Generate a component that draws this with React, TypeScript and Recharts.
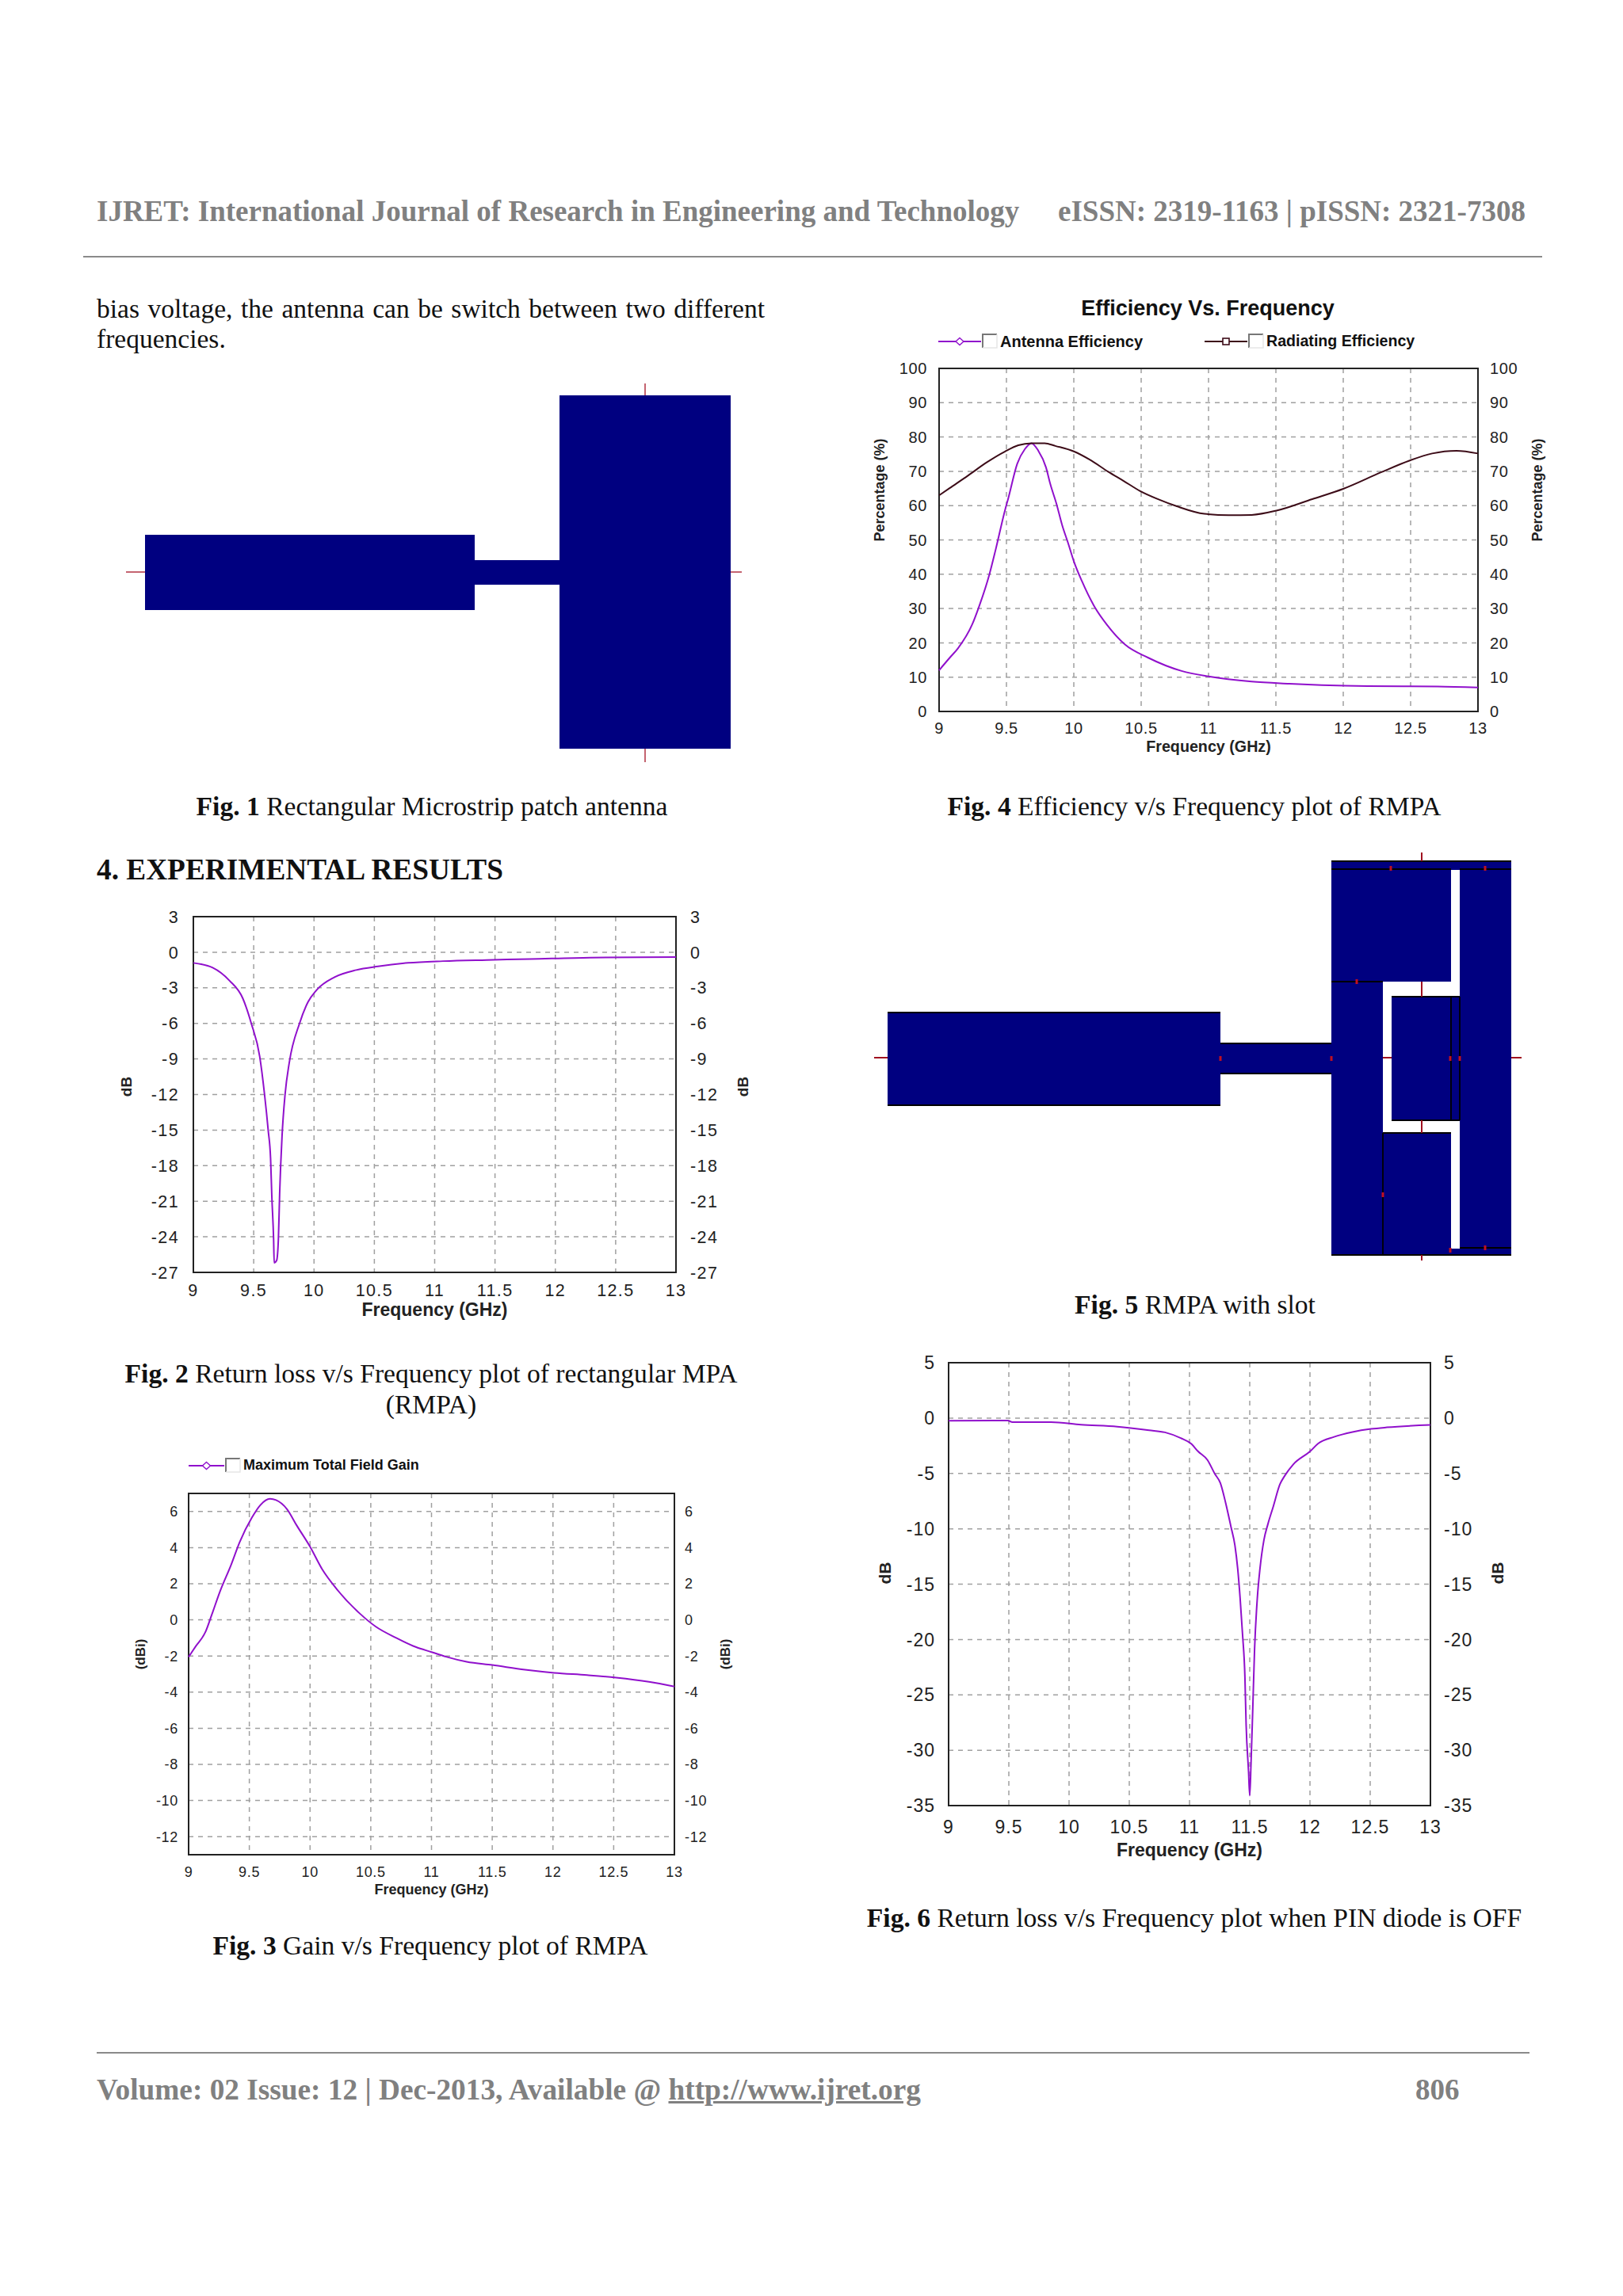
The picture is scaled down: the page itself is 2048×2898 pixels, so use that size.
import { LineChart, Line, XAxis, YAxis, CartesianGrid, ReferenceArea } from "recharts";

const freqTicks = [9, 9.5, 10, 10.5, 11, 11.5, 12, 12.5, 13];

// Fig. 2 return loss
const fig2Freq = [9, 9.16, 9.3, 9.41, 9.48, 9.55, 9.59, 9.62, 9.64, 9.65, 9.665, 9.67, 9.69, 9.705, 9.715, 9.735, 9.76, 9.795, 9.88, 9.95, 10.02, 10.17, 10.35, 10.53, 10.78, 11.07, 11.43, 11.79, 12.29, 13];
const fig2Db = [-0.9, -1.3, -2.4, -3.9, -6, -8.8, -12, -15, -17.4, -20.5, -24.2, -26.2, -26, -24.1, -20.4, -15.5, -12, -9.3, -6, -4.2, -3.2, -2.1, -1.5, -1.2, -0.9, -0.75, -0.65, -0.57, -0.45, -0.4];
const fig2Ticks = [-27, -24, -21, -18, -15, -12, -9, -6, -3, 0, 3];

// Fig. 3 gain
const fig3Freq = [9, 9.06, 9.14, 9.19, 9.26, 9.35, 9.42, 9.52, 9.59, 9.67, 9.72, 9.81, 9.89, 10, 10.1, 10.22, 10.41, 10.54, 10.71, 10.87, 11, 11.12, 11.29, 11.5, 11.77, 12.01, 12.28, 12.52, 12.79, 13];
const fig3Gain = [-2.05, -1.45, -0.65, 0.27, 1.6, 3.05, 4.3, 5.65, 6.35, 6.7, 6.63, 6.13, 5.23, 4.05, 2.8, 1.7, 0.35, -0.37, -1, -1.5, -1.78, -2.04, -2.32, -2.5, -2.76, -2.93, -3.06, -3.2, -3.43, -3.69];
const fig3Ticks = [-12, -10, -8, -6, -4, -2, 0, 2, 4, 6];

// Fig. 4 efficiency
const antennaFreq = [9, 9.08, 9.14, 9.245, 9.294, 9.373, 9.42, 9.49, 9.514, 9.58, 9.637, 9.686, 9.735, 9.794, 9.824, 9.873, 9.912, 9.96, 10, 10.06, 10.157, 10.245, 10.38, 10.55, 10.8, 11, 11.32, 11.6, 11.84, 12.18, 12.7, 13];
const antennaEff = [12, 15.7, 18.4, 25.3, 30.3, 39.9, 47.2, 58.8, 62.2, 72.2, 76.5, 78.2, 76.1, 71.1, 66.5, 60.3, 54.5, 48.8, 43.8, 38, 30.3, 25.3, 19.5, 15.7, 11.8, 10.2, 8.7, 8.1, 7.7, 7.4, 7.3, 7];
const radiatingFreq = [9, 9.078, 9.216, 9.353, 9.49, 9.588, 9.686, 9.784, 9.863, 10, 10.118, 10.255, 10.37, 10.49, 10.63, 10.765, 10.97, 11.15, 11.32, 11.51, 11.77, 12, 12.28, 12.49, 12.66, 12.84, 13];
const radiatingEff = [63, 65.1, 68.8, 72.6, 75.8, 77.6, 78.2, 78.2, 77.4, 75.8, 73.4, 69.9, 67.2, 64.3, 61.8, 59.8, 57.6, 57.2, 57.3, 58.6, 61.9, 64.9, 69.7, 73.1, 75.2, 76, 75.2];
const fig4Ticks = [0, 10, 20, 30, 40, 50, 60, 70, 80, 90, 100];

// Fig. 6 return loss, diode off
const fig6Freq = [9, 9.49, 9.53, 9.85, 10.1, 10.4, 10.664, 10.796, 10.927, 11.016, 11.07, 11.15, 11.21, 11.256, 11.3, 11.344, 11.377, 11.4, 11.42, 11.44, 11.46, 11.47, 11.49, 11.5, 11.51, 11.525, 11.54, 11.563, 11.585, 11.618, 11.651, 11.695, 11.75, 11.794, 11.86, 12.002, 12.068, 12.2, 12.353, 12.507, 12.64, 13];
const fig6Db = [-0.25, -0.22, -0.37, -0.37, -0.6, -0.78, -1.1, -1.29, -1.81, -2.34, -3, -3.8, -5.04, -5.87, -7.66, -9.81, -11.5, -13.6, -16.25, -19.5, -23.4, -27.7, -31.9, -34.1, -31.4, -26.3, -20.9, -16.25, -13.6, -11, -9.57, -8, -6, -5.15, -4.2, -3, -2.3, -1.7, -1.26, -0.98, -0.84, -0.62];
const fig6Ticks = [-35, -30, -25, -20, -15, -10, -5, 0, 5];

const PURPLE = "#9010cc";
const MAROON = "#3d0c18";
const NAVY = "#000080";
const SANS = "'Liberation Sans', Arial, sans-serif";
const SERIF = "'Liberation Serif', 'Times New Roman', serif";

const toRows = (xs: number[], ys: number[]) => xs.map((f, i) => ({ f, v: ys[i] }));

function sideTitle(value: string, cx: number, shift: number, size: number) {
  return (props: any) => {
    const vb = props.viewBox;
    const x = vb.x + cx;
    const y = vb.y + vb.height / 2 + shift;
    return (
      <text
        x={x}
        y={y}
        transform={`rotate(-90 ${x} ${y})`}
        textAnchor="middle"
        dominantBaseline="central"
        fontFamily={SANS}
        fontWeight="bold"
        fontSize={size}
        fill="#222"
      >
        {value}
      </text>
    );
  };
}

type PlotProps = {
  left: number;
  right: number;
  top: number;
  bottom: number;
  domain: [number, number];
  ticks: number[];
  series: { name: string; rows: { f: number; v: number }[]; color: string }[];
  tickSize: number;
  tickSpread: number;
  tickGap: number;
  xTickGap: number;
  xTitleY: number;
  titleSize: number;
  yTitle: string;
  yTitleSize: number;
  yTitleLeft: number;
  yTitleRight: number;
  yTitleShift: number;
};

function Plot(p: PlotProps) {
  const side = 110;
  const pad = 20;
  const foot = 80;
  const w = p.right - p.left + side * 2;
  const h = p.bottom - p.top + pad + foot;
  const tick = { fontSize: p.tickSize, fontFamily: SANS, fill: "#222", letterSpacing: p.tickSpread };
  return (
    <div style={{ position: "absolute", left: p.left - side, top: p.top - pad }}>
      <LineChart width={w} height={h} margin={{ top: pad, right: 0, bottom: 0, left: 0 }}>
        <CartesianGrid stroke="#a0a0a0" strokeDasharray="6 6" strokeWidth={1.5} xAxisId="x" yAxisId="l" />
        <XAxis
          xAxisId="x"
          dataKey="f"
          type="number"
          domain={[9, 13]}
          ticks={freqTicks}
          allowDuplicatedCategory={false}
          height={foot}
          tickLine={false}
          axisLine={false}
          tickSize={0}
          tickMargin={p.xTickGap}
          tick={tick}
          interval={0}
          label={{
            value: "Frequency (GHz)",
            position: "insideTop",
            offset: p.xTitleY,
            style: { fontFamily: SANS, fontWeight: "bold", fontSize: p.titleSize, fill: "#222" },
          }}
        />
        <YAxis
          yAxisId="l"
          type="number"
          domain={p.domain}
          ticks={p.ticks}
          width={side}
          interval={0}
          tickLine={false}
          axisLine={false}
          tickSize={0}
          tickMargin={p.tickGap}
          tick={tick}
          label={sideTitle(p.yTitle, p.yTitleLeft, p.yTitleShift, p.yTitleSize)}
        />
        <YAxis
          yAxisId="r"
          orientation="right"
          type="number"
          domain={p.domain}
          ticks={p.ticks}
          width={side}
          interval={0}
          tickLine={false}
          axisLine={false}
          tickSize={0}
          tickMargin={p.tickGap}
          tick={{ ...tick, textAnchor: "start" }}
          label={sideTitle(p.yTitle, p.yTitleRight, p.yTitleShift, p.yTitleSize)}
        />
        <ReferenceArea
          xAxisId="x"
          yAxisId="l"
          x1={9}
          x2={13}
          y1={p.domain[0]}
          y2={p.domain[1]}
          fill="none"
          stroke="#222"
          strokeWidth={2}
        />
        {/* the right axis only mirrors the left one, it needs a series of its own to draw */}
        <Line
          xAxisId="x"
          yAxisId="r"
          data={p.series[0].rows}
          dataKey="v"
          stroke="none"
          dot={false}
          isAnimationActive={false}
        />
        {p.series.map((s) => (
          <Line
            key={s.name}
            xAxisId="x"
            yAxisId="l"
            data={s.rows}
            dataKey="v"
            name={s.name}
            type="monotone"
            stroke={s.color}
            strokeWidth={2}
            dot={false}
            isAnimationActive={false}
          />
        ))}
      </LineChart>
    </div>
  );
}

function T(props: {
  x: number;
  y: number;
  size: number;
  children: any;
  center?: boolean;
  bold?: boolean;
  color?: string;
  width?: number;
  family?: string;
}) {
  const h = props.size * 1.4;
  return (
    <div
      style={{
        position: "absolute",
        left: props.x,
        top: props.y - h / 2,
        height: h,
        lineHeight: `${h}px`,
        fontSize: props.size,
        fontFamily: props.family ?? SERIF,
        fontWeight: props.bold ? "bold" : "normal",
        color: props.color ?? "#111",
        whiteSpace: props.width ? "normal" : "nowrap",
        width: props.width,
        textAlign: props.width ? "justify" : undefined,
        textAlignLast: props.width ? "justify" : undefined,
        transform: props.center ? "translateX(-50%)" : undefined,
      }}
    >
      {props.children}
    </div>
  );
}

function Caption(props: { x: number; y: number; label: string; text: string }) {
  return (
    <T x={props.x} y={props.y} size={33.6} center>
      <b>{props.label}</b> {props.text}
    </T>
  );
}

function LegendItem(props: {
  x: number;
  y: number;
  color: string;
  square?: boolean;
  label: string;
  size: number;
  lineLen: number;
}) {
  const { x, y, color, size, lineLen } = props;
  const mid = lineLen / 2;
  return (
    <>
      <svg style={{ position: "absolute", left: x, top: y - 14 }} width={lineLen + 25} height={28}>
        <line x1={0} x2={lineLen} y1={14} y2={14} stroke={color} strokeWidth={2} />
        {props.square ? (
          <rect x={mid - 4} y={10} width={8} height={8} fill="#fff" stroke={color} strokeWidth={1.6} />
        ) : (
          <path d={`M${mid} 9.5 L${mid + 5} 14 L${mid} 18.5 L${mid - 5} 14 Z`} fill="#fff" stroke={color} strokeWidth={1.4} />
        )}
        <path d={`M${lineLen + 2} 22 V5 H${lineLen + 20}`} fill="none" stroke="#777" strokeWidth={2} />
        <path d={`M${lineLen + 20} 5 V22 H${lineLen + 2}`} fill="none" stroke="#e6e6e6" strokeWidth={1.5} />
      </svg>
      <T x={x + lineLen + 24} y={y} size={size} bold family={SANS}>
        {props.label}
      </T>
    </>
  );
}

// Patch drawings of Fig. 1 and Fig. 5, page coordinates
const fig1Blocks = [
  [183, 675, 416, 95],
  [599, 707, 107, 31],
  [706, 499, 216, 446],
];
const fig1Leads = [
  [159, 722, 183, 722],
  [922, 722, 936, 722],
  [814, 484, 814, 499],
  [814, 945, 814, 962],
];
const fig5Blocks = [
  [1120, 1278, 420, 117],
  [1540, 1317, 140, 38],
  [1680, 1087, 227, 497],
];
const fig5Slots = [
  [1831, 1098, 11, 160],
  [1745, 1239, 97, 19],
  [1745, 1239, 11, 192],
  [1745, 1414, 97, 17],
  [1831, 1414, 11, 162],
];
const fig5Edges = [
  [1680, 1087, 1907, 1087],
  [1680, 1097, 1831, 1097],
  [1842, 1097, 1907, 1097],
  [1680, 1239, 1745, 1239],
  [1745, 1430, 1745, 1584],
  [1745, 1430, 1831, 1430],
  [1756, 1258, 1842, 1258],
  [1756, 1414, 1842, 1414],
  [1831, 1258, 1831, 1414],
  [1842, 1258, 1842, 1414],
  [1842, 1575, 1907, 1575],
  [1680, 1584, 1907, 1584],
  [1120, 1278, 1540, 1278],
  [1120, 1395, 1540, 1395],
  [1540, 1317, 1680, 1317],
  [1540, 1355, 1680, 1355],
];
const fig5Leads = [
  [1103, 1335, 1120, 1335],
  [1907, 1335, 1920, 1335],
  [1745, 1335, 1756, 1335],
  [1794, 1076, 1794, 1087],
  [1794, 1584, 1794, 1591],
  [1794, 1239, 1794, 1258],
  [1794, 1414, 1794, 1430],
];
const fig5Marks = [
  [1755, 1096], [1874, 1096], [1712, 1239], [1540, 1336], [1680, 1336],
  [1830, 1336], [1842, 1336], [1745, 1508], [1874, 1575], [1830, 1578],
];

function Drawings() {
  const lines = (list: number[][], color: string, sw: number) =>
    list.map((l, i) => <line key={i} x1={l[0]} y1={l[1]} x2={l[2]} y2={l[3]} stroke={color} strokeWidth={sw} />);
  const rects = (list: number[][], color: string) =>
    list.map((r, i) => <rect key={i} x={r[0]} y={r[1]} width={r[2]} height={r[3]} fill={color} />);
  return (
    <svg style={{ position: "absolute", left: 0, top: 0 }} width={2048} height={2898}>
      {rects(fig1Blocks, NAVY)}
      {lines(fig1Leads, "#b03040", 1.5)}
      {rects(fig5Blocks, NAVY)}
      {rects(fig5Slots, "#fff")}
      {lines(fig5Edges, "#000", 1.8)}
      {lines(fig5Leads, "#a01020", 2)}
      {fig5Marks.map((m, i) => (
        <rect key={i} x={m[0] - 1.5} y={m[1] - 3} width={3} height={6} fill="#c01020" />
      ))}
    </svg>
  );
}

export default function App() {
  return (
    <div style={{ position: "absolute", left: 0, top: 0, width: 2048, height: 2898, background: "#fff", overflow: "hidden" }}>
      <T x={122} y={267} size={37} bold color="#808080">
        IJRET: International Journal of Research in Engineering and Technology
      </T>
      <T x={1335} y={267} size={37} bold color="#808080">
        eISSN: 2319-1163 | pISSN: 2321-7308
      </T>
      <div style={{ position: "absolute", left: 105, top: 323, width: 1841, height: 2, background: "#8a8a8a" }} />
      <T x={122} y={390} size={33.5} width={843}>
        bias voltage, the antenna can be switch between two different
      </T>
      <T x={122} y={428} size={33.5}>
        frequencies.
      </T>

      <Drawings />

      <Caption x={545} y={1018} label="Fig. 1" text="Rectangular Microstrip patch antenna" />
      <Caption x={1507} y={1018} label="Fig. 4" text="Efficiency v/s Frequency plot of RMPA" />
      <T x={122} y={1098} size={37.3} bold>
        4. EXPERIMENTAL RESULTS
      </T>
      <Caption x={1508} y={1647} label="Fig. 5" text="RMPA with slot" />
      <Caption x={544} y={1734} label="Fig. 2" text="Return loss v/s Frequency plot of rectangular MPA" />
      <T x={544} y={1773} size={33.6} center>
        (RMPA)
      </T>
      <Caption x={543} y={2456} label="Fig. 3" text="Gain v/s Frequency plot of RMPA" />
      <Caption x={1507} y={2421} label="Fig. 6" text="Return loss v/s Frequency plot when PIN diode is OFF" />

      <T x={1524} y={390} size={27} bold center family={SANS}>
        Efficiency Vs. Frequency
      </T>
      <LegendItem x={1184} y={431} color={PURPLE} label="Antenna Efficiency" size={20} lineLen={54} />
      <LegendItem x={1520} y={431} color={MAROON} square label="Radiating Efficiency" size={19.6} lineLen={54} />
      <Plot
        left={1185}
        right={1865}
        top={465}
        bottom={898}
        domain={[0, 100]}
        ticks={fig4Ticks}
        series={[
          { name: "Antenna Efficiency", rows: toRows(antennaFreq, antennaEff), color: PURPLE },
          { name: "Radiating Efficiency", rows: toRows(radiatingFreq, radiatingEff), color: MAROON },
        ]}
        tickSize={20}
        tickSpread={0.6}
        tickGap={15}
        xTickGap={14}
        xTitleY={37}
        titleSize={19.7}
        yTitle="Percentage (%)"
        yTitleSize={18}
        yTitleLeft={35}
        yTitleRight={75}
        yTitleShift={-63}
      />

      <Plot
        left={244}
        right={853}
        top={1157}
        bottom={1606}
        domain={[-27, 3]}
        ticks={fig2Ticks}
        series={[{ name: "Return loss", rows: toRows(fig2Freq, fig2Db), color: PURPLE }]}
        tickSize={21.5}
        tickSpread={1.4}
        tickGap={18}
        xTickGap={15}
        xTitleY={39}
        titleSize={23}
        yTitle="dB"
        yTitleSize={19}
        yTitleLeft={25}
        yTitleRight={84}
        yTitleShift={-10}
      />

      <LegendItem x={238} y={1850} color={PURPLE} label="Maximum Total Field Gain" size={18} lineLen={45} />
      <Plot
        left={238}
        right={851}
        top={1885}
        bottom={2341}
        domain={[-13, 7]}
        ticks={fig3Ticks}
        series={[{ name: "Maximum Total Field Gain", rows: toRows(fig3Freq, fig3Gain), color: PURPLE }]}
        tickSize={18}
        tickSpread={0.7}
        tickGap={13}
        xTickGap={15}
        xTitleY={37}
        titleSize={18}
        yTitle="(dBi)"
        yTitleSize={17}
        yTitleLeft={49}
        yTitleRight={64}
        yTitleShift={-25}
      />

      <Plot
        left={1197}
        right={1805}
        top={1720}
        bottom={2279}
        domain={[-35, 5]}
        ticks={fig6Ticks}
        series={[{ name: "Return loss", rows: toRows(fig6Freq, fig6Db), color: PURPLE }]}
        tickSize={23}
        tickSpread={1}
        tickGap={17}
        xTickGap={19}
        xTitleY={48}
        titleSize={23}
        yTitle="dB"
        yTitleSize={21}
        yTitleLeft={29}
        yTitleRight={84}
        yTitleShift={-14}
      />

      <div style={{ position: "absolute", left: 122, top: 2590, width: 1808, height: 2, background: "#8a8a8a" }} />
      <T x={122} y={2638} size={37.3} bold color="#808080">
        Volume: 02 Issue: 12 | Dec-2013, Available @ <u>http://www.ijret.org</u>
      </T>
      <T x={1786} y={2638} size={37} bold color="#808080">
        806
      </T>
    </div>
  );
}
